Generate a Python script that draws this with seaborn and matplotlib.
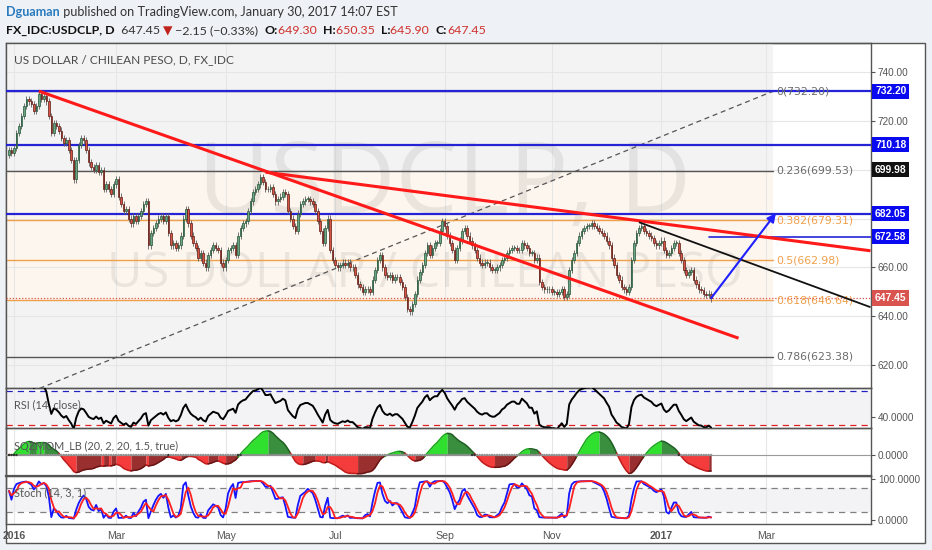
import numpy as np
import pandas as pd
import matplotlib
matplotlib.use("Agg")
import matplotlib.pyplot as plt
import matplotlib.transforms as mtransforms
from matplotlib.patches import Rectangle, FancyArrowPatch
import seaborn as sns

# ---------------- data ----------------
closes = [
    708, 707, 709, 715, 718, 722, 726, 729, 728, 727,
    724, 726, 731, 729, 730, 728, 722, 715, 719, 718,
    716, 713, 711, 712, 708, 704, 696, 704, 710, 713,
    712, 708, 703, 701, 700, 702, 699, 700, 692, 694,
    692, 690, 694, 696, 689, 686, 683, 684, 680, 678,
    681, 679, 681, 683, 686, 687, 669, 674, 676, 678,
    680, 681, 679, 681, 674, 669, 670, 668, 669, 673,
    680, 684, 678, 673, 670, 668, 664, 666, 662, 660,
    665, 667, 669, 668, 667, 662, 660, 663, 667, 668,
    669, 665, 673, 676, 678, 679, 683, 687, 691, 692,
    694, 697, 695, 692, 692, 693, 690, 687, 688, 689,
    691, 690, 683, 680, 677, 675, 682, 686, 687, 688,
    688, 687, 686, 683, 679, 675, 670, 676, 680, 667,
    663, 661, 660, 661, 662, 661, 662, 660, 660, 657,
    653, 652, 650, 651, 651, 650, 655, 659, 663, 665,
    660, 657, 656, 657, 655, 656, 656, 654, 652, 648,
    643, 642, 645, 649, 655, 658, 661, 666, 669, 665,
    668, 670, 670, 675, 679, 677, 673, 670, 667, 663,
    668, 671, 675, 676, 673, 671, 669, 667, 664, 662,
    661, 662, 662, 660, 659, 659, 660, 661, 663, 664,
    666, 667, 668, 668, 667, 667, 670, 669, 668, 666,
    666, 663, 664, 654, 652, 651, 651, 651, 650, 650,
    649, 650, 651, 648, 649, 659, 663, 666, 670, 673,
    675, 676, 677, 677, 678, 677, 676, 675, 674, 673,
    671, 669, 664, 661, 657, 655, 652, 651, 650, 652,
    663, 670, 674, 676, 677, 675, 674, 673, 672, 670,
    669, 670, 671, 667, 665, 666, 668, 670, 670, 666,
    663, 659, 657, 658, 659, 655, 653, 651, 650.7, 649,
    648.6, 649.3, 647.45,
]
first_day = "2015-12-31"
first_open = 706.0
last_open, last_high, last_low, last_close = 649.30, 650.35, 645.90, 647.45
change_txt = "\u22122.15 (\u22120.33%)"

blue_levels = [732.20, 710.18, 682.05]
ray_level, ray_start = 672.58, "2017-01-27"
marker_level = 699.98
fib_ratios = ["0", "0.236", "0.382", "0.5", "0.618", "0.786"]
fib_prices = [732.20, 699.53, 679.31, 662.98, 646.64, 623.38]
fib_one = 593.8
fib_start, fib_end = "2015-11-23", "2017-03-06"
red_trend1 = [("2016-01-18", 732.2), ("2017-02-14", 631.0)]
red_trend2 = [("2016-05-24", 699.0), ("2017-04-28", 666.8)]
black_trend = [("2016-12-20", 678.5), ("2017-04-28", 643.7)]
arrow_pts = [("2017-01-30", 647.4), ("2017-03-07", 682.2)]

month_ticks = ["2016-01-04", "2016-03-01", "2016-05-02", "2016-07-01",
               "2016-09-01", "2016-11-01", "2017-01-02", "2017-03-01"]
month_labels = ["2016", "Mar", "May", "Jul", "Sep", "Nov", "2017", "Mar"]
price_ticks = [620, 640, 660, 680, 700, 720, 740]
price_labels = ["620.00", "640.00", "660.00", "", "", "720.00", "740.00"]

# ---------------- style ----------------
sns.set_theme(style="white")
plt.rcParams["font.family"] = ["Liberation Sans", "DejaVu Sans"]

W, H = 932, 550
fig = plt.figure(figsize=(W / 100, H / 100), dpi=100, facecolor="#eef1f5")

all_days = pd.bdate_range("2015-10-01", "2017-06-30")
origin = all_days.get_loc(pd.Timestamp(first_day))


def pos(d):
    return all_days.get_loc(pd.Timestamp(d)) - origin


n = len(closes)
idx = np.arange(n)
c = np.array(closes, dtype=float)
o = np.concatenate([[first_open], c[:-1]])
o[-1] = last_open
wick = 1.3
hi = np.maximum(o, c) + wick
lo = np.minimum(o, c) - wick
hi[-1], lo[-1] = last_high, last_low

# ---------------- indicators ----------------
cs, hs, ls = pd.Series(c), pd.Series(hi), pd.Series(lo)
delta = cs.diff()
up = delta.clip(lower=0).ewm(alpha=1 / 14, adjust=True, min_periods=1).mean()
dn = (-delta.clip(upper=0)).ewm(alpha=1 / 14, adjust=True, min_periods=1).mean()
rsi = 100 - 100 / (1 + up / dn.replace(0, np.nan))
rsi.iloc[:3] = np.nan

hh14 = hs.rolling(14, min_periods=1).max()
ll14 = ls.rolling(14, min_periods=1).min()
stk = 100 * (cs - ll14) / (hh14 - ll14)
std = stk.rolling(3, min_periods=1).mean()

hh20 = hs.rolling(20, min_periods=1).max()
ll20 = ls.rolling(20, min_periods=1).min()
sma20 = cs.rolling(20, min_periods=1).mean()
src = (cs - ((hh20 + ll20) / 2 + sma20) / 2).values
val = np.empty(n)
for i in range(n):
    w = src[max(0, i - 19):i + 1]
    if len(w) < 2:
        val[i] = w[-1]
    else:
        xs = np.arange(len(w))
        a, b = np.polyfit(xs, w, 1)
        val[i] = a * xs[-1] + b
prev_close = cs.shift(1).fillna(cs.iloc[0])
tr = np.maximum(hs - ls, np.maximum((hs - prev_close).abs(), (ls - prev_close).abs()))
bb_dev = 2 * cs.rolling(20, min_periods=1).std(ddof=0)
kc_rng = 1.5 * tr.rolling(20, min_periods=1).mean()
sqz_on = (bb_dev < kc_rng).values

# ---------------- axes ----------------
L, R = 6, 871


def add_ax(top, bottom):
    a = fig.add_axes([L / W, 1 - bottom / H, (R - L) / W, (bottom - top) / H])
    a.set_zorder(2)
    return a


fig.patches.append(Rectangle((6 / W, 1 - 543 / H), 919 / W, 500 / H, transform=fig.transFigure,
                             fc="white", ec="#555555", lw=1.0, zorder=-5))
ax = add_ax(43, 388)
ax_rsi = add_ax(388, 428)
ax_sqz = add_ax(428, 476)
ax_sto = add_ax(476, 524)
xlim = (-1.2, 346.2)
tick_pos = [pos(d) for d in month_ticks]

for a in (ax, ax_rsi, ax_sqz, ax_sto):
    a.set_xlim(*xlim)
    a.set_facecolor("none")
    a.set_axisbelow(True)
    for s in a.spines.values():
        s.set_color("#555555")
        s.set_linewidth(1.0)
    a.set_xticks(tick_pos)
    a.grid(True, axis="x", color="#e6e6e6", lw=0.8)
    a.tick_params(axis="x", length=0, labelbottom=False)
    a.yaxis.tick_right()
    a.tick_params(axis="y", right=True, left=False, length=3, width=0.8, color="#555555",
                  labelsize=7.2, labelcolor="#555555", pad=2)

# ----- main panel -----
ax.set_ylim(610.6, 751.9)
ax.set_yticks(price_ticks)
ax.set_yticklabels(price_labels)
ax.grid(True, axis="y", color="#e6e6e6", lw=0.8)
fx0, fx1 = pos(fib_start), pos(fib_end)
ax.fill_between([fx0, fx1], 600, 760, color="#f3f3f3", lw=0, zorder=0.2)
ax.fill_between([fx0, fx1], fib_prices[4], fib_prices[1], color="#fdf6ee", lw=0, zorder=0.25)

ax.text(175, 682.2, "USDCLP, D", ha="center", va="baseline", fontsize=71,
        family="Open Sans", color="#8a8a8a", alpha=0.16, zorder=0.6)
ax.text(167, 651.9, "US DOLLAR / CHILEAN PESO", ha="center", va="baseline", fontsize=35,
        family="Open Sans", color="#8a8a8a", alpha=0.16, zorder=0.6)
ax.text((14 - L) / (R - L), (388 - 60) / 345, "US DOLLAR / CHILEAN PESO, D, FX_IDC",
        transform=ax.transAxes, fontsize=8.6, family="Lato", color="#4a4a4a", va="center")

# fib levels
ax.plot([fx0, fx1], [fib_one, fib_prices[0]], ls=(0, (4, 3)), color="#555555", lw=0.9, zorder=2)
for r, p in zip(fib_ratios, fib_prices):
    col = "#f0a04b" if r in ("0.382", "0.5", "0.618") else "#555555"
    ax.plot([fx0, fx1], [p, p], color=col, lw=1.0, zorder=2)
    tcol = "#f0a04b" if col != "#555555" else "#6b6b6b"
    ax.text(fx1 + 1.2, p, f"{r}({p:.2f})", fontsize=7.8, family="DejaVu Sans",
            color=tcol, va="center", ha="left", zorder=5)

# horizontal levels
for p in blue_levels:
    ax.axhline(p, color="#2424d6", lw=1.6, zorder=3)
ax.plot([pos(ray_start), xlim[1]], [ray_level, ray_level], color="#2424d6", lw=1.2, zorder=3)
ax.axhline(last_close, color="#d9534f", lw=0.9, ls=(0, (1, 1.5)), zorder=3)

# candles
up_mask = c >= o
body_col = np.where(up_mask, "#6ba583", "#d75442")
edge_col = np.where(up_mask, "#225437", "#5b1a13")
ax.vlines(idx, lo, hi, color="#5f5f5f", lw=0.6, zorder=4)
ax.bar(idx, np.maximum(np.abs(c - o), 0.25), bottom=np.minimum(o, c), width=0.62,
       color=body_col, edgecolor=edge_col, linewidth=0.5, zorder=4.5)

# trend lines
for pts, col, lw in ((red_trend1, "#ff1a1a", 2.2), (red_trend2, "#ff1a1a", 2.2),
                     (black_trend, "#111111", 1.3)):
    ax.plot([pos(pts[0][0]), pos(pts[1][0])], [pts[0][1], pts[1][1]], color=col, lw=lw,
            zorder=6, solid_capstyle="butt")
ax.add_patch(FancyArrowPatch((pos(arrow_pts[0][0]), arrow_pts[0][1]),
                             (pos(arrow_pts[1][0]), arrow_pts[1][1]),
                             arrowstyle="-|>,head_length=5,head_width=2.5", color="#1f1fff",
                             lw=1.5, zorder=6, shrinkA=0, shrinkB=0))

# right price boxes
btr = mtransforms.blended_transform_factory(ax.transAxes, ax.transData)
for p, fc in ((732.20, "#0a0af0"), (710.18, "#0a0af0"), (marker_level, "#111111"),
              (682.05, "#0a0af0"), (ray_level, "#0a0af0"), (last_close, "#d9534f")):
    ax.text(1 + 4 / (R - L), p, f"{p:.2f}", transform=btr, fontsize=7.4, color="white",
            fontweight="bold", va="center", ha="left", zorder=7, clip_on=False,
            bbox=dict(boxstyle="square,pad=0.25", fc=fc, ec="none"))

# ----- RSI -----
ax_rsi.set_ylim(26.5, 73.5)
ax_rsi.axhspan(30, 70, color="#f3f3f6", lw=0, zorder=0.2)
ax_rsi.axhline(70, color="#2020c0", lw=0.9, ls=(0, (5, 4)))
ax_rsi.axhline(30, color="#e02020", lw=0.9, ls=(0, (5, 4)))
sns.lineplot(x=idx, y=rsi.values, ax=ax_rsi, color="black", lw=1.4, zorder=3)
ax_rsi.set_yticks([40])
ax_rsi.set_yticklabels(["40.0000"])
ax_rsi.text((14 - L) / (R - L), 0.575, "RSI (14, close)", transform=ax_rsi.transAxes,
            fontsize=7.8, family="Lato", color="#555555", va="center", zorder=5)

# ----- Squeeze momentum -----
cols, edges = [], []
for i in range(n):
    pv = val[i - 1] if i > 0 else val[i]
    if val[i] > 0:
        cols.append("#2fe02f" if val[i] > pv else "#3a8f3f")
        edges.append("#17a617" if val[i] > pv else "#1f5f22")
    else:
        cols.append("#f53c3c" if val[i] < pv else "#9a2f2f")
        edges.append("#c01c1c" if val[i] < pv else "#6a1515")
start = 1
for i in range(2, n + 1):
    if i == n or cols[i] != cols[start]:
        xs_seg = np.arange(start - 1, i)
        ys_seg = val[start - 1:i]
        ax_sqz.fill_between(xs_seg, ys_seg, 0, color=cols[start], lw=0, zorder=2)
        ax_sqz.plot(xs_seg, ys_seg, color=edges[start], lw=1.1, zorder=2.5)
        start = i
top = np.nanmax(val) * 1.12
ax_sqz.set_ylim(-top * 21 / 27, top)
ax_sqz.axhline(0, color="#9a9a9a", lw=0.8, zorder=2.6)
ax_sqz.scatter(idx, np.zeros(n), s=3, c=np.where(sqz_on, "#333333", "#8f8f8f"), zorder=3,
               linewidths=0)
ax_sqz.set_yticks([0])
ax_sqz.set_yticklabels(["0.0000"])
ax_sqz.text((14 - L) / (R - L), 0.625, "SQZMOM_LB (20, 2, 20, 1.5, true)",
            transform=ax_sqz.transAxes, fontsize=7.8, family="Lato", color="#555555",
            va="center", zorder=5)
ax_sqz.spines["bottom"].set_linewidth(1.6)

# ----- Stochastic -----
ax_sto.set_ylim(-9.9, 108.6)
ax_sto.axhspan(20, 80, color="#f3f3f6", lw=0, zorder=0.2)
ax_sto.axhline(80, color="#808080", lw=0.9, ls=(0, (5, 4)))
ax_sto.axhline(20, color="#808080", lw=0.9, ls=(0, (5, 4)))
sns.lineplot(x=idx, y=stk.values, ax=ax_sto, color="#1515ff", lw=1.3, zorder=3)
sns.lineplot(x=idx, y=std.values, ax=ax_sto, color="#ff2020", lw=1.3, zorder=3.5)
ax_sto.set_yticks([0, 100])
ax_sto.set_yticklabels(["0.0000", "100.0000"])
ax_sto.text((14 - L) / (R - L), 0.646, "Stoch (14, 3, 1)", transform=ax_sto.transAxes,
            fontsize=7.8, family="Lato", color="#555555", va="center", zorder=5)
ax_sto.set_xticklabels(month_labels)
ax_sto.tick_params(axis="x", labelbottom=True, length=0, pad=5, labelsize=7.6,
                   labelcolor="#555555")
for t in ax_sto.get_xticklabels():
    if t.get_text().isdigit():
        t.set_fontweight("bold")

for a in (ax, ax_rsi, ax_sqz, ax_sto):
    a.set_xlabel("")
    a.set_ylabel("")
    a.set_xlim(*xlim)

# ---------------- header ----------------
renderer = fig.canvas.get_renderer()


def chain(x_px, y_px, parts, size):
    x = x_px
    for s, kw in parts:
        t = fig.text(x / W, 1 - y_px / H, s, va="center", ha="left",
                     family=["Lato", "DejaVu Sans"], fontsize=size, **kw)
        x += t.get_window_extent(renderer=renderer).width


dark, red = "#333333", "#d0312d"
chain(6, 12, [("Dguaman", dict(color="#2a7bbf", fontweight="bold")),
              (" published on TradingView.com, January 30, 2017 14:07 EST", dict(color=dark))],
      9.1)
chain(6, 31, [("FX_IDC:USDCLP, D", dict(color="#111111", fontweight="bold")),
              (f"  {last_close:.2f} ", dict(color=dark)),
              ("\u25bc", dict(color="#c0221c")),
              (" " + change_txt + "  ", dict(color=dark)),
              ("O:", dict(color="#111111", fontweight="bold")),
              (f"{last_open:.2f}  ", dict(color=red)),
              ("H:", dict(color="#111111", fontweight="bold")),
              (f"{last_high:.2f}  ", dict(color=red)),
              ("L:", dict(color="#111111", fontweight="bold")),
              (f"{last_low:.2f}  ", dict(color=red)),
              ("C:", dict(color="#111111", fontweight="bold")),
              (f"{last_close:.2f}", dict(color=red))], 8.9)

fig.savefig("out.png", dpi=100, facecolor=fig.get_facecolor())
